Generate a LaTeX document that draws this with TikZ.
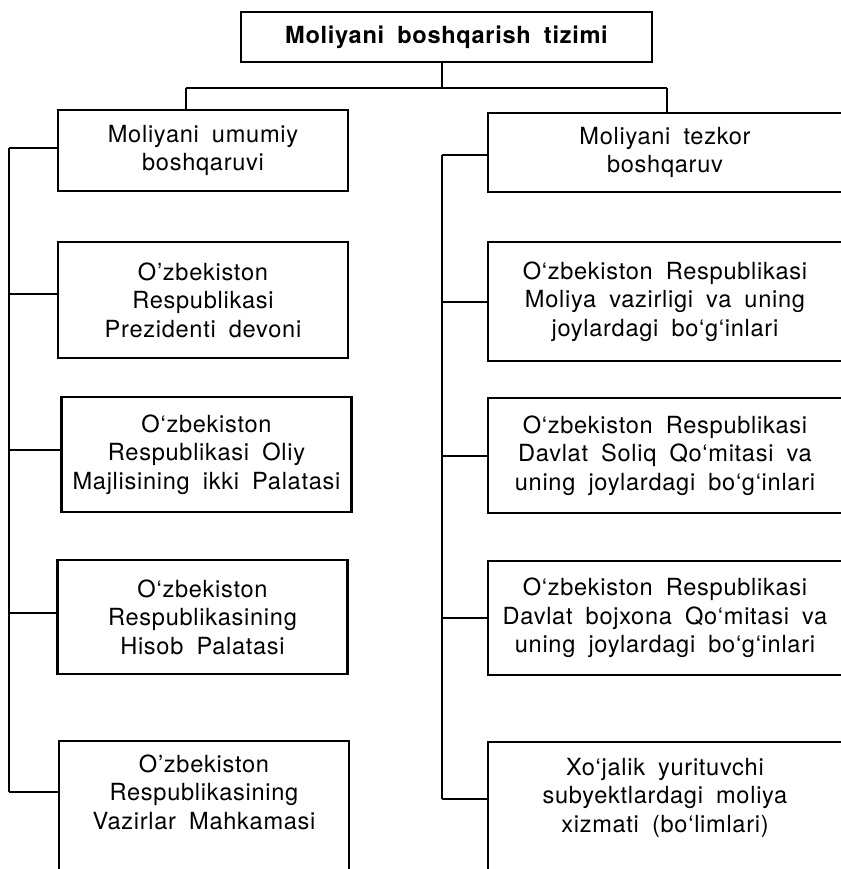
\documentclass[tikz,border=0pt]{standalone}
\usepackage{fontspec}
\setmainfont{TeX Gyre Heros}[LetterSpace=3, WordSpace=1.8]
\usetikzlibrary{positioning}

\tikzset{
	box/.style={draw, line width=1.2pt, align=center, inner sep=0pt,
		font=\fontsize{11.8}{14.25}\selectfont},
	lbox/.style={box, minimum width=145pt},
	rbox/.style={box, minimum width=177pt},
	link/.style={line width=1pt}
}

\begin{document}
\begin{tikzpicture}[x=0.5pt, y=-0.5pt]
	\useasboundingbox (0,0) rectangle (841,869);
	\clip (0,0) rectangle (841,869);

	% head
	\node[box, minimum width=205.5pt, minimum height=25pt, font=\fontsize{11.8}{14.25}\selectfont\bfseries] (head) at (446.5,37) {Moliyani boshqarish tizimi};

	% left column
	\node[lbox, minimum height=40.5pt] (gen) at (203,150.5) {Moliyani umumiy\\boshqaruvi};
	\node[lbox, minimum height=58pt] (pres) at (203,300) {O’zbekiston\\Respublikasi\\Prezidenti devoni};
	\node[lbox, minimum height=57.5pt] (parl) at (206.5,454.5) {O‘zbekiston\\Respublikasi Oliy\\Majlisining ikki Palatasi};
	\node[lbox, minimum height=57pt] (audit) at (202.5,617) {O‘zbekiston\\Respublikasining\\Hisob Palatasi};
	\node[lbox, minimum height=70pt, text depth=19pt] (cab) at (204,811) {O’zbekiston\\Respublikasining\\Vazirlar Mahkamasi};

	% right column
	\node[rbox, minimum height=39.5pt] (oper) at (665,152.5) {Moliyani tezkor\\boshqaruv};
	\node[rbox, minimum height=59.5pt] (minfin) at (665,301.5) {O‘zbekiston Respublikasi\\Moliya vazirligi va uning\\joylardagi bo‘g‘inlari};
	\node[rbox, minimum height=57.5pt] (tax) at (665,455.5) {O‘zbekiston Respublikasi\\Davlat Soliq Qo‘mitasi va\\uning joylardagi bo‘g‘inlari};
	\node[rbox, minimum height=57pt] (customs) at (665,618) {O‘zbekiston Respublikasi\\Davlat bojxona Qo‘mitasi va\\uning joylardagi bo‘g‘inlari};
	\node[rbox, minimum height=70pt, text depth=17pt] (firms) at (665,812) {Xo‘jalik yurituvchi\\subyektlardagi moliya\\xizmati (bo‘limlari)};

	% branching under the head
	\coordinate (split) at (442,88);
	\coordinate (jl) at (186,88);
	\coordinate (jr) at (667,88);
	\draw[link] (split) -- (split |- head.south);
	\draw[link] (jl) -- (jr);
	\draw[link] (jl) -- (jl |- gen.north);
	\draw[link] (jr) -- (jr |- oper.north);

	% left bracket
	\coordinate (ltop) at (9,148);
	\coordinate (lbot) at (9,792);
	\draw[link] (ltop) -- (lbot);
	\draw[link] (ltop) -- (ltop -| gen.west);
	\draw[link] ([yshift=3pt]pres.west) -- ([yshift=3pt]pres.west -| ltop);
	\draw[link] ([yshift=2.5pt]parl.west) -- ([yshift=2.5pt]parl.west -| ltop);
	\draw[link] ([yshift=2pt]audit.west) -- ([yshift=2pt]audit.west -| ltop);
	\draw[link] (lbot) -- (lbot -| cab.west);

	% right bracket
	\coordinate (rtop) at (442,155);
	\coordinate (rbot) at (442,799);
	\draw[link] (rtop) -- (rbot);
	\draw[link] (rtop) -- (rtop -| oper.west);
	\draw[link] (minfin.west) -- (minfin.west -| rtop);
	\draw[link] (tax.west) -- (tax.west -| rtop);
	\draw[link] (customs.west) -- (customs.west -| rtop);
	\draw[link] (rbot) -- (rbot -| firms.west);
\end{tikzpicture}
\end{document}
